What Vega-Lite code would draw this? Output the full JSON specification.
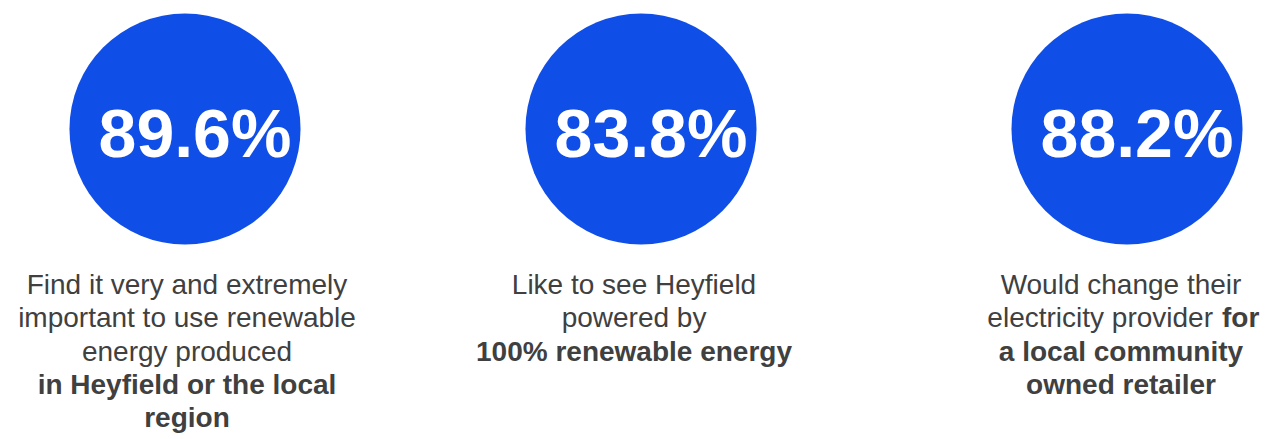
{
  "$schema": "https://vega.github.io/schema/vega-lite/v6.json",
  "padding": 0,
  "spacing": 0,
  "background": "white",
  "config": {"view": {"stroke": null}, "text": {"font": "Liberation Sans"}},
  "datasets": {
    "stats": [
      {"col": 0, "share": 0.896},
      {"col": 1, "share": 0.838},
      {"col": 2, "share": 0.882}
    ],
    "captions": [
      {"col": 0, "line": 0, "text": "Find it very and extremely", "bold": false, "part": "whole"},
      {"col": 0, "line": 1, "text": "important to use renewable", "bold": false, "part": "whole"},
      {"col": 0, "line": 2, "text": "energy produced", "bold": false, "part": "whole"},
      {"col": 0, "line": 3, "text": "in Heyfield or the local", "bold": true, "part": "whole"},
      {"col": 0, "line": 4, "text": "region", "bold": true, "part": "whole"},
      {"col": 1, "line": 0, "text": "Like to see Heyfield", "bold": false, "part": "whole"},
      {"col": 1, "line": 1, "text": "powered by", "bold": false, "part": "whole"},
      {"col": 1, "line": 2, "text": "100% renewable energy", "bold": true, "part": "whole"},
      {"col": 2, "line": 0, "text": "Would change their", "bold": false, "part": "whole"},
      {"col": 2, "line": 1, "text": "electricity provider", "bold": false, "part": "start"},
      {"col": 2, "line": 1, "text": "for", "bold": true, "part": "end"},
      {"col": 2, "line": 2, "text": "a local community", "bold": true, "part": "whole"},
      {"col": 2, "line": 3, "text": "owned retailer", "bold": true, "part": "whole"}
    ]
  },
  "vconcat": [
    {
      "width": 1267,
      "height": 258,
      "data": {"name": "stats"},
      "encoding": {
        "x": {"field": "col", "type": "quantitative", "axis": null,
              "scale": {"domain": [0, 1, 2], "range": [185, 641, 1127], "zero": false, "nice": false}}
      },
      "layer": [
        {
          "mark": {"type": "point", "shape": "circle", "filled": true, "opacity": 1, "size": 53400, "color": "#104EE8"}
        },
        {
          "mark": {"type": "text", "fontSize": 68, "fontWeight": "bold", "color": "white", "baseline": "alphabetic", "align": "center", "dy": 28, "dx": 10},
          "encoding": {"text": {"field": "share", "type": "quantitative", "format": ".1%"}}
        }
      ]
    },
    {
      "width": 1267,
      "height": 181,
      "data": {"name": "captions"},
      "encoding": {
        "x": {"field": "col", "type": "quantitative", "axis": null,
              "scale": {"domain": [0, 1, 2], "range": [187, 634, 1121], "zero": false, "nice": false}},
        "y": {"field": "line", "type": "quantitative", "axis": null,
              "scale": {"domain": [0, 4], "range": [36, 169], "zero": false, "nice": false}},
        "text": {"field": "text", "type": "nominal"}
      },
      "layer": [
        {
          "transform": [{"filter": "datum.part === 'whole' && !datum.bold"}],
          "mark": {"type": "text", "fontSize": 28, "color": "#404040", "align": "center", "baseline": "alphabetic"}
        },
        {
          "transform": [{"filter": "datum.part === 'whole' && datum.bold"}],
          "mark": {"type": "text", "fontSize": 28, "fontWeight": "bold", "color": "#404040", "align": "center", "baseline": "alphabetic"}
        },
        {
          "transform": [{"filter": "datum.part === 'start'"}],
          "mark": {"type": "text", "fontSize": 28, "color": "#404040", "align": "right", "baseline": "alphabetic", "dx": 92}
        },
        {
          "transform": [{"filter": "datum.part === 'end'"}],
          "mark": {"type": "text", "fontSize": 28, "fontWeight": "bold", "color": "#404040", "align": "left", "baseline": "alphabetic", "dx": 101}
        }
      ]
    }
  ]
}
